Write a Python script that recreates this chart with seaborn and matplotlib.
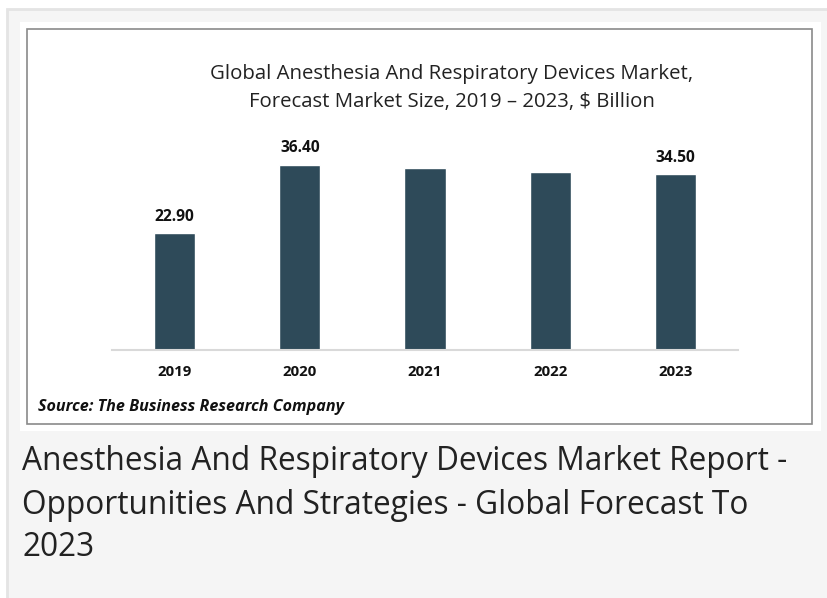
import pandas as pd
import numpy as np
import matplotlib.pyplot as plt
from matplotlib.patches import Rectangle
import seaborn as sns

# chart data
years = ["2019", "2020", "2021", "2022", "2023"]
market_size = [22.9, 36.4, 35.7, 34.9, 34.5]
shown_labels = ["22.90", "36.40", "", "", "34.50"]

title = "Global Anesthesia And Respiratory Devices Market,\nForecast Market Size, 2019 \u2013 2023, $ Billion"
source = "Source: The Business Research Company"
caption = "Anesthesia And Respiratory Devices Market Report -\nOpportunities And Strategies - Global Forecast To\n2023"

df = pd.DataFrame({"year": years, "size": market_size})

sns.set_theme(style="white")
plt.rcParams["font.family"] = ["Open Sans", "DejaVu Sans"]

W, H = 827, 598
fig = plt.figure(figsize=(W / 100, H / 100), dpi=100)
fig.patch.set_facecolor("white")


def box(x0, y0, x1, y1, **kw):
    # pixel coords (top-left origin) -> figure rect
    fig.patches.append(Rectangle((x0 / W, 1 - y1 / H), (x1 - x0) / W, (y1 - y0) / H,
                                 transform=fig.transFigure, **kw))


# page background, white card, chart frame
box(7, 9, 830, 600, facecolor="#f5f5f5", edgecolor="#e4e4e4", linewidth=2, zorder=-3)
box(20, 22, 821, 431, facecolor="white", edgecolor="none", zorder=-2)
box(26.5, 28.5, 811.5, 424, facecolor="none", edgecolor="#8a8a8a", linewidth=1.2, zorder=-1)

ax = fig.add_axes([112 / W, 1 - 349.5 / H, 626 / W, 203.1 / H])
ax.set_facecolor("none")
sns.barplot(data=df, x="year", y="size", color="#2e4a59", width=0.33, saturation=1, ax=ax)
ax.set_ylim(0, 40)
ax.set_xlim(-0.5, 4.5)

for i, (v, lab) in enumerate(zip(market_size, shown_labels)):
    if lab:
        ax.annotate(lab, (i, v), xytext=(0, 12), textcoords="offset points",
                    ha="center", va="center", fontsize=11.2, fontweight="bold", color="#111111")

sns.despine(ax=ax, left=True)
ax.spines["bottom"].set_color("#d9d9d9")
ax.spines["bottom"].set_linewidth(1.5)
ax.set_yticks([])
ax.set_xlabel("")
ax.set_ylabel("")
ax.tick_params(axis="x", length=0, pad=11)
for t in ax.get_xticklabels():
    t.set_fontsize(10.8)
    t.set_fontweight("bold")
    t.set_color("#111111")

fig.text(452 / W, 1 - 88 / H, title, ha="center", va="center", fontsize=14.7,
         color="#222222", linespacing=1.5)
fig.text(38 / W, 1 - 407 / H, source, ha="left", va="center", fontsize=11.6,
         fontweight="bold", fontstyle="italic", color="#111111")
fig.text(22 / W, 1 - 505 / H, caption, ha="left", va="center", fontsize=22.8,
         color="#222222", linespacing=1.4)

fig.savefig("out.png", dpi=100)
